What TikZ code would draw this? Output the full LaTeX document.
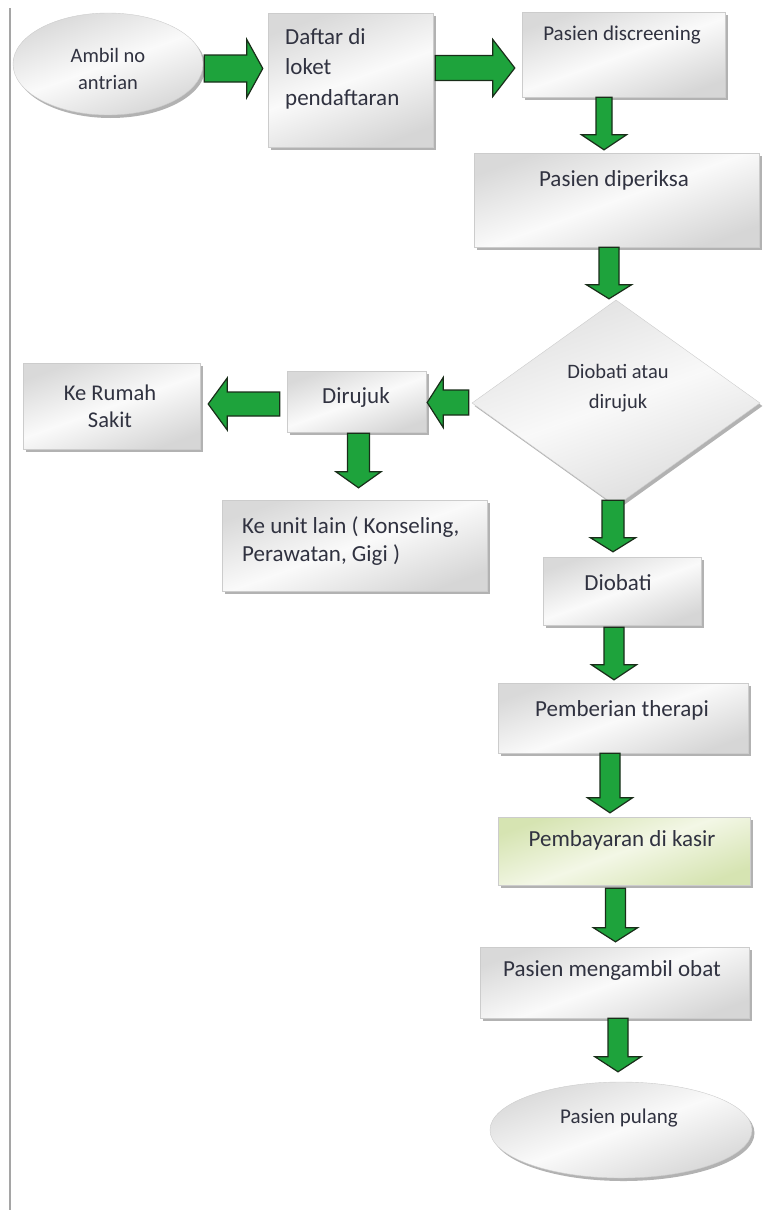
\documentclass[tikz,border=0pt]{standalone}
\usepackage{fontspec}
\setmainfont{Carlito}
\usetikzlibrary{shapes.geometric,shadows,calc}
\definecolor{arrgreen}{RGB}{30,163,60}
\definecolor{arredge}{RGB}{25,45,25}
\definecolor{txtc}{RGB}{48,50,64}
\definecolor{grnA}{RGB}{214,228,178}
\definecolor{grnB}{RGB}{243,247,230}
\definecolor{framec}{RGB}{165,165,165}
\tikzset{
  shadowed/.style={drop shadow={shadow xshift=2.5pt, shadow yshift=-3pt, fill=black, opacity=0.3}},
  graybox/.style={rectangle, inner sep=0pt, draw=gray!40, line width=0.4pt,
    top color=gray!30, bottom color=gray!32, middle color=gray!4, shading angle=20, shadowed},
  greenbox/.style={graybox, top color=grnA, bottom color=grnA, middle color=grnB, shading angle=20},
  oval/.style={ellipse, inner sep=0pt, draw=gray!40, line width=0.4pt,
    top color=gray!30, bottom color=gray!32, middle color=gray!4, shading angle=20, shadowed},
  decision/.style={diamond, inner sep=0pt, draw=gray!40, line width=0.4pt,
    top color=gray!24, bottom color=gray!28, middle color=gray!5, shading angle=20, shadowed},
  txt/.style={inner sep=0pt, text=txtc, font=\fontsize{23}{28}\selectfont},
  txts/.style={inner sep=0pt, text=txtc, font=\fontsize{20.5}{27}\selectfont},
  barrow/.style={fill=arrgreen, draw=arredge, line width=1.2pt, line join=miter},
}
% block arrow: from, to, shaft half width, head half width, head length
\newcommand{\blockarrow}[5]{%
  \draw[barrow] let \p1=($(#2)-(#1)$), \n1={veclen(\x1,\y1)}, \n2={atan2(\y1,\x1)} in
    {[shift={(#1)}, rotate=\n2]
     (0pt,-#3pt) -- ({\n1*1pt-#5pt},-#3pt) -- ({\n1*1pt-#5pt},-#4pt) -- ({\n1*1pt},0pt)
     -- ({\n1*1pt-#5pt},#4pt) -- ({\n1*1pt-#5pt},#3pt) -- (0pt,#3pt) -- cycle};
}
\begin{document}
\begin{tikzpicture}[x=1pt,y=-1pt]
\useasboundingbox (0,0) rectangle (763,1210);
\draw[framec, line width=2.5pt] (10,8) -- (10,1210);

% nodes
\node[oval, minimum width=190pt, minimum height=102pt] (ambil) at (108,64) {};
\node[txts, align=center] (tambil) at (108,68.5) {Ambil no\\antrian};

\node[graybox, minimum width=165pt, minimum height=134pt] (daftar) at (350.5,80) {};
\node[txt, anchor=west, align=left, font=\fontsize{23}{30.5}\selectfont] (tdaftar) at (285,68.5) {Daftar di\\loket\\pendaftaran};

\node[graybox, minimum width=203pt, minimum height=85pt] (screen) at (623.5,54.5) {};
\node[txts, font=\fontsize{21}{27}\selectfont] (tscreen) at (622,35) {Pasien discreening};

\node[graybox, minimum width=285pt, minimum height=94pt] (periksa) at (616.5,200) {};
\node[txt] (tperiksa) at (614,180) {Pasien diperiksa};

\node[decision, minimum width=288pt, minimum height=206pt, aspect=1.4] (dec) at (616,403) {};
\node[txts, align=center, font=\fontsize{20.5}{30}\selectfont] (tdec) at (618,388) {Diobati atau\\dirujuk};

\node[graybox, minimum width=139pt, minimum height=61pt] (dirujuk) at (356.5,401.5) {};
\node[txt] (tdirujuk) at (356,397) {Dirujuk};

\node[graybox, minimum width=177pt, minimum height=86pt] (rumah) at (111.5,406) {};
\node[txt, align=center, font=\fontsize{22.5}{27}\selectfont] (trumah) at (110,406.5) {Ke Rumah\\Sakit};

\node[graybox, minimum width=265pt, minimum height=91pt] (unit) at (354.5,545.5) {};
\node[txt, anchor=west, align=left] (tunit) at (242,541) {Ke unit lain ( Konseling,\\Perawatan, Gigi )};

\node[graybox, minimum width=158pt, minimum height=68pt] (diobati) at (622,591) {};
\node[txt] (tdiobati) at (618,583) {Diobati};

\node[graybox, minimum width=250pt, minimum height=70pt] (terapi) at (623,718) {};
\node[txt] (tterapi) at (622,710) {Pemberian therapi};

\node[greenbox, minimum width=252pt, minimum height=68pt] (bayar) at (624,851) {};
\node[txt] (tbayar) at (622,840) {Pembayaran di kasir};

\node[graybox, minimum width=269pt, minimum height=71pt] (obat) at (614.5,982.5) {};
\node[txt] (tobat) at (612,970) {Pasien mengambil obat};

\node[oval, minimum width=262pt, minimum height=96pt] (pulang) at (621,1130) {};
\node[txts, font=\fontsize{21}{27}\selectfont] (tpulang) at (619,1118) {Pasien pulang};

% arrow end points
\coordinate (a1s) at ($(ambil.east)+(1,4.5)$);
\coordinate (a1e) at ($(daftar.west)+(-5,-11.5)$);
\coordinate (a2s) at ($(daftar.east)+(2,-12)$);
\coordinate (a2e) at ($(screen.west)+(-7,13.5)$);
\coordinate (a3s) at ($(screen.south)+(-19.5,0)$);
\coordinate (a3e) at ($(periksa.north)+(-12.5,-3)$);
\coordinate (a4s) at ($(periksa.south)+(-7.5,0)$);
\coordinate (a4e) at ($(dec.north)+(-7,-1)$);
\coordinate (a5s) at ($(dec.west)+(-3,-0.5)$);
\coordinate (a5e) at ($(dirujuk.east)+(1,1)$);
\coordinate (a6s) at ($(dirujuk.west)+(-7,2.5)$);
\coordinate (a6e) at ($(rumah.east)+(8,-2)$);
\coordinate (a7s) at ($(dirujuk.south)+(2,1)$);
\coordinate (a7e) at ($(unit.north)+(4,-12)$);
\coordinate (a8s) at ($(dec.south)+(-3,-6)$);
\coordinate (a8e) at ($(diobati.north)+(-9,-5)$);
\coordinate (a9s) at ($(diobati.south)+(-8,2)$);
\coordinate (a9e) at ($(terapi.north)+(-9,-3)$);
\coordinate (a10s) at ($(terapi.south)+(-13,0)$);
\coordinate (a10e) at ($(bayar.north)+(-14,-4)$);
\coordinate (a11s) at ($(bayar.south)+(-8.5,3)$);
\coordinate (a11e) at ($(obat.north)+(1,-5)$);
\coordinate (a12s) at ($(obat.south)+(3.5,0)$);
\coordinate (a12e) at ($(pulang.north)+(-3,-10)$);

% connectors
\blockarrow{a1s}{a1e}{13.5}{29}{16}
\blockarrow{a2s}{a2e}{12.5}{28.5}{22}
\blockarrow{a3s}{a3e}{8}{22.5}{15}
\blockarrow{a4s}{a4e}{10}{22.5}{14}
\blockarrow{a5s}{a5e}{12.5}{25}{16}
\blockarrow{a6s}{a6e}{12}{26}{19}
\blockarrow{a7s}{a7e}{11}{22.5}{16}
\blockarrow{a8s}{a8e}{11}{22.5}{14}
\blockarrow{a9s}{a9e}{10}{22.5}{15}
\blockarrow{a10s}{a10e}{10}{22.5}{15}
\blockarrow{a11s}{a11e}{10}{22}{14}
\blockarrow{a12s}{a12e}{10}{23}{15}
\end{tikzpicture}
\end{document}
